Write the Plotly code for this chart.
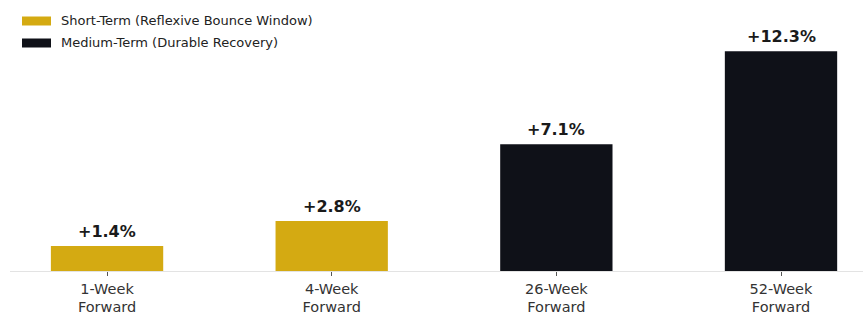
import plotly.graph_objects as go

# Forward returns after the signal
categories = ["1-Week<br>Forward", "4-Week<br>Forward", "26-Week<br>Forward", "52-Week<br>Forward"]
returns = [1.4, 2.8, 7.1, 12.3]
horizon_group = ["short", "short", "medium", "medium"]

group_names = {
    "short": "Short-Term (Reflexive Bounce Window)",
    "medium": "Medium-Term (Durable Recovery)",
}
group_colors = {"short": "#D4AA12", "medium": "#0F1118"}

FONT = "DejaVu Sans"

W, H = 863, 330
M_L, M_R, M_T, M_B = 10, 0, 3, 59
PLOT_W = W - M_L - M_R
PLOT_H = H - M_T - M_B


def px_x(px):
    return (px - M_L) / PLOT_W


def px_y(py):
    return (H - M_B - py) / PLOT_H


fig = go.Figure()

fig.add_trace(go.Bar(
    x=categories,
    y=returns,
    width=0.5,
    marker=dict(
        color=[group_colors[g] for g in horizon_group],
        line=dict(width=0),
    ),
    showlegend=False,
    hoverinfo="skip",
))

# Value labels above each bar
for cat, val in zip(categories, returns):
    fig.add_annotation(
        x=cat, y=val, xref="x", yref="y",
        text=f"<b>+{val:.1f}%</b>",
        showarrow=False,
        yanchor="bottom",
        yshift=3,
        font=dict(family=FONT, size=16, color="#1A1A1A"),
    )

# Legend with wide swatches
legend_rows = [("short", 21), ("medium", 43)]
for key, yc in legend_rows:
    fig.add_shape(
        type="rect",
        xref="paper", yref="paper",
        x0=px_x(22), x1=px_x(51),
        y0=px_y(yc - 4.5), y1=px_y(yc + 4.5),
        fillcolor=group_colors[key],
        line=dict(width=0),
    )
    fig.add_annotation(
        xref="paper", yref="paper",
        x=px_x(59), y=px_y(yc - 1),
        xanchor="left", yanchor="middle",
        text=group_names[key],
        showarrow=False,
        font=dict(family=FONT, size=13, color="#222222"),
    )

fig.update_layout(
    width=W, height=H,
    margin=dict(l=M_L, r=M_R, t=M_T, b=M_B),
    paper_bgcolor="white",
    plot_bgcolor="white",
    font=dict(family=FONT, size=14.5, color="#333333"),
    xaxis=dict(
        range=[-0.432, 3.365],
        showgrid=False,
        showline=True,
        linecolor="#E3E3E3",
        linewidth=1.2,
        ticks="outside",
        ticklen=4,
        tickwidth=1,
        tickcolor="#555555",
        tickfont=dict(family=FONT, size=14.5, color="#333333"),
        zeroline=False,
    ),
    yaxis=dict(
        range=[0, 15],
        visible=False,
        showgrid=False,
        zeroline=False,
    ),
)

fig.write_html("out.html")
